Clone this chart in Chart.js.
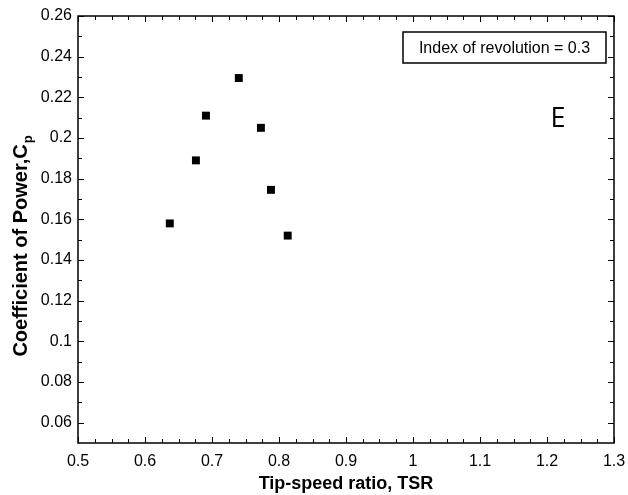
<!DOCTYPE html>
<html>
<head>
<meta charset="utf-8">
<script src="https://cdn.jsdelivr.net/npm/chart.js@4/dist/chart.umd.min.js"></script>
<style>
  html, body { margin: 0; padding: 0; background: #fff; }
  #wrap { position: relative; width: 628px; height: 495px; }
</style>
</head>
<body>
<div id="wrap"><canvas id="chartCp" width="628" height="495"></canvas></div>
<script>
'use strict';

/* ── DATA ──────────────────────────────────────────────────────── */
var tsr = [0.637, 0.676, 0.691, 0.740, 0.773, 0.788, 0.813];
var cp  = [0.158, 0.189, 0.211, 0.2295, 0.205, 0.1745, 0.152];

var xTickVals   = [0.5, 0.6, 0.7, 0.8, 0.9, 1.0, 1.1, 1.2, 1.3];
var xTickLabels = ['0.5', '0.6', '0.7', '0.8', '0.9', '1', '1.1', '1.2', '1.3'];
var yTickVals   = [0.06, 0.08, 0.10, 0.12, 0.14, 0.16, 0.18, 0.20, 0.22, 0.24, 0.26];
var yTickLabels = ['0.06', '0.08', '0.1', '0.12', '0.14', '0.16', '0.18', '0.2', '0.22', '0.24', '0.26'];

var legendText = 'Index of revolution = 0.3';
var panelTag   = 'E';
var xTitle     = 'Tip-speed ratio, TSR';
var yTitle     = 'Coefficient of Power,C';
var yTitleSub  = 'p';

var FONT = '"Liberation Sans", Arial, Helvetica, sans-serif';

/* ── FRAME, INSIDE TICKS, ANNOTATIONS ─────────────────────────── */
var framePlugin = {
  id: 'frame',
  afterDraw: function(chart) {
    var ctx = chart.ctx, a = chart.chartArea;
    var xs = chart.scales.x, ys = chart.scales.y;
    ctx.save();
    ctx.strokeStyle = '#000';
    ctx.fillStyle = '#000';

    /* minor + major ticks, pointing inward on all four sides */
    ctx.lineWidth = 1;
    ctx.beginPath();
    var i, v, px, len;
    for (i = 0; i <= 32; i++) {
      v = 0.5 + i * 0.025;
      px = Math.round(xs.getPixelForValue(v)) + 0.5;
      len = (i % 4 === 0) ? 6 : 4;
      ctx.moveTo(px, a.bottom); ctx.lineTo(px, a.bottom - len);
      ctx.moveTo(px, a.top);    ctx.lineTo(px, a.top + len);
    }
    for (i = 6; i <= 26; i++) {
      v = i / 100;
      px = Math.round(ys.getPixelForValue(v)) + 0.5;
      len = (i % 2 === 0) ? 6 : 4;
      ctx.moveTo(a.left, px);  ctx.lineTo(a.left + len, px);
      ctx.moveTo(a.right, px); ctx.lineTo(a.right - len, px);
    }
    ctx.stroke();

    /* box frame */
    ctx.lineWidth = 1.5;
    ctx.strokeRect(a.left, a.top, a.right - a.left, a.bottom - a.top);

    /* legend-like text box */
    var bw = 203, bh = 31;
    var bx = a.right - 8 - bw, by = a.top + 16;
    ctx.lineWidth = 1.5;
    ctx.strokeRect(bx, by, bw, bh);
    ctx.font = '16px ' + FONT;
    ctx.textAlign = 'center';
    ctx.textBaseline = 'middle';
    ctx.fillText(legendText, bx + bw / 2, by + bh / 2 + 1);

    /* panel tag */
    ctx.font = '27px "Open Sans", "Liberation Sans", sans-serif';
    ctx.textBaseline = 'alphabetic';
    ctx.fillText(panelTag, 558, 127);

    /* x title */
    ctx.font = 'bold 18px ' + FONT;
    ctx.textBaseline = 'alphabetic';
    ctx.fillText(xTitle, (a.left + a.right) / 2, 489);

    /* y title with subscript */
    ctx.translate(27, (a.top + a.bottom) / 2 + 17);
    ctx.rotate(-Math.PI / 2);
    ctx.font = 'bold 20px ' + FONT;
    var w1 = ctx.measureText(yTitle).width;
    ctx.font = 'bold 13px ' + FONT;
    var w2 = ctx.measureText(yTitleSub).width;
    var x0 = -(w1 + w2) / 2;
    ctx.textAlign = 'left';
    ctx.font = 'bold 20px ' + FONT;
    ctx.fillText(yTitle, x0, 0);
    ctx.font = 'bold 13px ' + FONT;
    ctx.fillText(yTitleSub, x0 + w1 + 1, 5);
    ctx.restore();
  }
};

/* ── CHART ─────────────────────────────────────────────────────── */
var chart = new Chart(document.getElementById('chartCp'), {
  type: 'scatter',
  data: {
    datasets: [{
      label: 'Cp',
      data: tsr.map(function(x, i) { return { x: x, y: cp[i] }; }),
      pointStyle: 'rect',
      pointRadius: 5.6,
      pointHoverRadius: 5.6,
      backgroundColor: '#000',
      borderColor: '#000',
      borderWidth: 0
    }]
  },
  options: {
    responsive: false,
    animation: false,
    layout: { padding: { top: 16, right: 14, left: 0, bottom: 0 } },
    plugins: {
      legend: { display: false },
      tooltip: { enabled: false }
    },
    scales: {
      x: {
        type: 'linear',
        min: 0.5, max: 1.3,
        grid: { display: false, drawTicks: false },
        border: { display: false },
        afterBuildTicks: function(s) { s.ticks = xTickVals.map(function(v) { return { value: v }; }); },
        afterFit: function(s) { s.height = 52; s.paddingLeft = 0; s.paddingRight = 0; },
        ticks: {
          autoSkip: false,
          maxRotation: 0,
          padding: 9,
          color: '#000',
          font: { family: FONT, size: 16 },
          callback: function(v, i) { return xTickLabels[i]; }
        }
      },
      y: {
        type: 'linear',
        min: 0.05, max: 0.26,
        grid: { display: false, drawTicks: false },
        border: { display: false },
        afterBuildTicks: function(s) { s.ticks = yTickVals.map(function(v) { return { value: v }; }); },
        afterFit: function(s) { s.width = 78; s.paddingTop = 0; s.paddingBottom = 0; },
        ticks: {
          autoSkip: false,
          padding: 6,
          color: '#000',
          font: { family: FONT, size: 16 },
          callback: function(v, i) { return yTickLabels[i]; }
        }
      }
    }
  },
  plugins: [framePlugin]
});
</script>
</body>
</html>
